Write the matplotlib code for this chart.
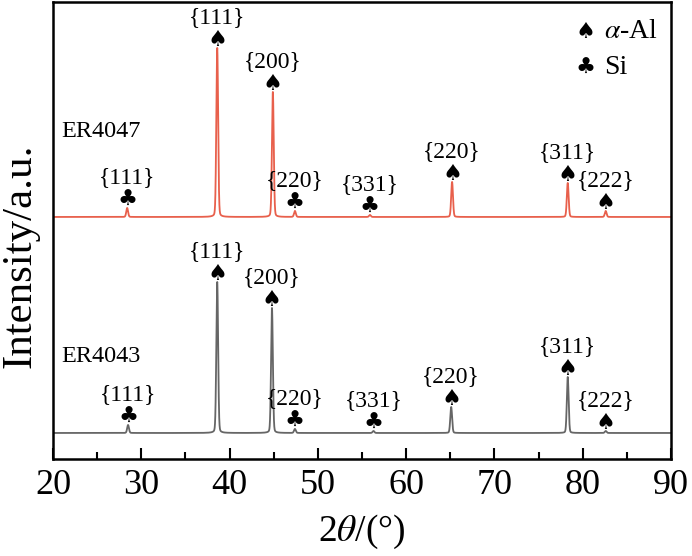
import numpy as np
import matplotlib
matplotlib.use("Agg")
import matplotlib.pyplot as plt
from matplotlib.ticker import MultipleLocator

plt.rcParams['font.family'] = ['Liberation Serif', 'DejaVu Sans']
plt.rcParams['mathtext.fontset'] = 'stix'

# peak positions (2theta) and heights (a.u.)
er4047_pos = [28.4, 38.6, 44.9, 47.4, 55.9, 65.2, 78.3, 82.6]
er4047_h = [9, 169, 125, 6, 2, 35, 34, 6]
er4043_pos = [28.5, 38.6, 44.8, 47.4, 56.3, 65.1, 78.3, 82.6]
er4043_h = [8, 151, 125, 4, 2, 26, 56, 2]
er4047_base = 242
er4043_base = 26
sigma = 0.1
gamma = 0.15

# peak labels: hkl, phase ('Al' or 'Si')
hkl = ['{111}', '{111}', '{200}', '{220}', '{331}', '{220}', '{311}', '{222}']
phase = ['Si', 'Al', 'Al', 'Si', 'Si', 'Al', 'Al', 'Al']

spade = '\u2660'
club = '\u2663'

x = np.linspace(20, 90, 14001)


def pattern(pos, h, base):
    y = np.full_like(x, base, dtype=float)
    for p, a in zip(pos, h):
        g = np.exp(-0.5 * ((x - p) / sigma) ** 2)
        l = 1 / (1 + ((x - p) / gamma) ** 2)
        y += a * (0.9 * g + 0.1 * l)
    return y


fig = plt.figure(figsize=(6.92, 5.56), dpi=100)
ax = fig.add_axes([0.0766, 0.1745, 0.8931, 0.822])

ax.plot(x, pattern(er4047_pos, er4047_h, er4047_base), color='#E8604C', lw=1.3)
ax.plot(x, pattern(er4043_pos, er4043_h, er4043_base), color='#666666', lw=1.3)

for pos, h, base in [(er4047_pos, er4047_h, er4047_base),
                     (er4043_pos, er4043_h, er4043_base)]:
    for p, a, lab, ph in zip(pos, h, hkl, phase):
        top = base + a
        ax.text(p, top + 8, spade if ph == 'Al' else club, fontsize=16,
                ha='center', va='center', family='DejaVu Sans')
        ax.text(p, top + 30, lab, fontsize=17, ha='center', va='center')

ax.text(20.9, 327, 'ER4047', fontsize=17.5, va='center')
ax.text(20.9, 102, 'ER4043', fontsize=17.5, va='center')

# legend
ax.text(80.3, 427, spade, fontsize=16, ha='center', va='center', family='DejaVu Sans')
ax.text(82.4, 427, r'$\alpha$-Al', fontsize=20, va='center')
ax.text(80.3, 391, club, fontsize=16, ha='center', va='center', family='DejaVu Sans')
ax.text(82.4, 391, 'Si', fontsize=20, va='center')

ax.set_xlim(20, 90)
ax.set_ylim(0, 457)
ax.xaxis.set_major_locator(MultipleLocator(10))
ax.xaxis.set_minor_locator(MultipleLocator(5))
ax.tick_params(axis='x', which='major', direction='in', length=8, width=1.5,
               labelsize=26, pad=7)
ax.tick_params(axis='x', which='minor', direction='in', length=5, width=1.5)
ax.set_yticks([])
for s in ax.spines.values():
    s.set_linewidth(1.8)

ax.set_xlabel(r'2$\theta$/(°)', fontsize=27, labelpad=8)
ax.set_ylabel('Intensity/a.u.', fontsize=31)
ax.yaxis.set_label_coords(-0.022, 0.444)

fig.savefig('out.png', dpi=100)
